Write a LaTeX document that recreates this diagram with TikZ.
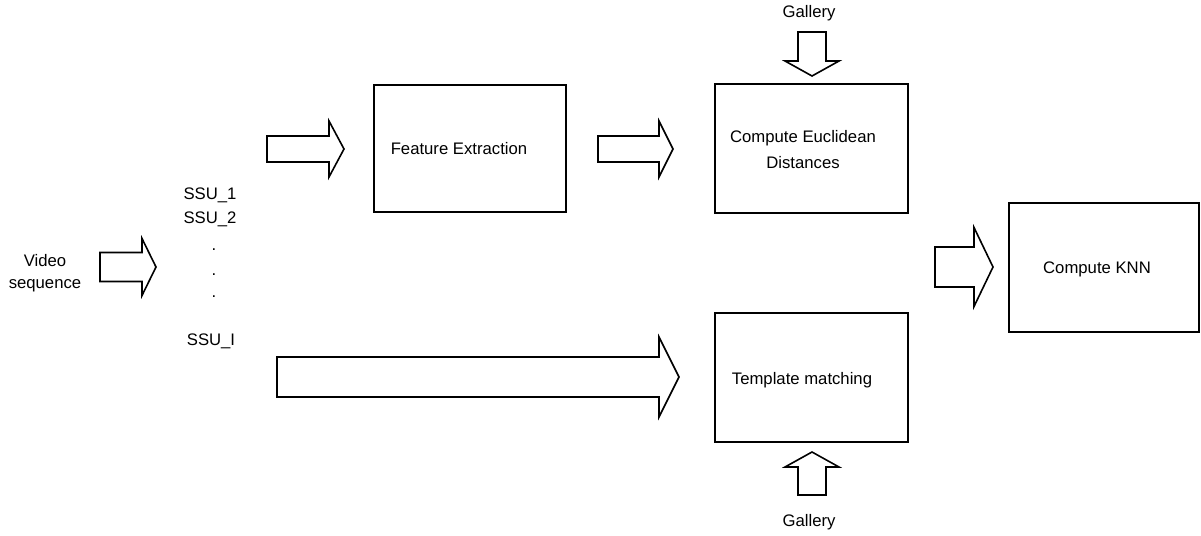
\documentclass[tikz,border=0pt]{standalone}
\usepackage{fontspec}
\setmainfont{Liberation Sans}
\begin{document}
\begin{tikzpicture}[x=1pt,y=-1pt,
  box/.style={draw=black,line width=1.6pt,fill=white},
  blk/.style={draw=black,line width=1.6pt,fill=white,line join=miter},
  lbl/.style={inner sep=0pt,font=\fontsize{16.7}{20}\selectfont,align=center}]
\useasboundingbox (0,0) rectangle (1201,535);
\newcommand\harrow[6]{\draw[blk] (#1,#4-#5) -- (#2,#4-#5) -- (#2,#4-#6) -- (#3,#4) -- (#2,#4+#6) -- (#2,#4+#5) -- (#1,#4+#5) -- cycle;}
\newcommand\varrow[6]{\draw[blk] (#4-#5,#1) -- (#4-#5,#2) -- (#4-#6,#2) -- (#4,#3) -- (#4+#6,#2) -- (#4+#5,#2) -- (#4+#5,#1) -- cycle;}
% boxes
\draw[box] (374,85) rectangle (566,212) coordinate (fe);
\draw[box] (715,84) rectangle (908,213) coordinate (ced);
\draw[box] (1009,203) rectangle (1199,332) coordinate (knn);
\draw[box] (715,313) rectangle (908,442) coordinate (tm);
% labels
\node[lbl] (feT) at (459,149) {Feature Extraction};
\node[lbl,font=\fontsize{16.7}{26}\selectfont] (cedT) at (803,150) {Compute Euclidean\\Distances};
\node[lbl] (knnT) at (1097,269) {Compute KNN};
\node[lbl] (tmT) at (802,380) {Template matching};
\node[lbl] (g1) at (809,13) {Gallery};
\node[lbl] (g2) at (809,522) {Gallery};
\node[lbl,font=\fontsize{16.7}{22}\selectfont] (vid) at (45,273) {Video\\sequence};
\node[lbl] (s1) at (210,195) {SSU\_1};
\node[lbl] (s2) at (210,219) {SSU\_2};
\node[lbl] (d1) at (214,250) {.};
\node[lbl] (d2) at (214,275) {.};
\node[lbl] (d3) at (214,297) {.};
\node[lbl] (sI) at (211,341) {SSU\_I};
% block arrows
\harrow{267}{329}{344}{149}{13}{28}
\harrow{598}{659}{673}{149}{13}{28}
\harrow{277}{659}{679}{377}{20}{40}
\harrow{100}{142}{156}{267}{14.5}{28.5}
\harrow{935}{974}{993}{267}{20}{39.5}
\varrow{32}{61}{76}{812}{14}{27}
\varrow{495}{467}{452}{812}{14}{27}
\end{tikzpicture}
\end{document}
